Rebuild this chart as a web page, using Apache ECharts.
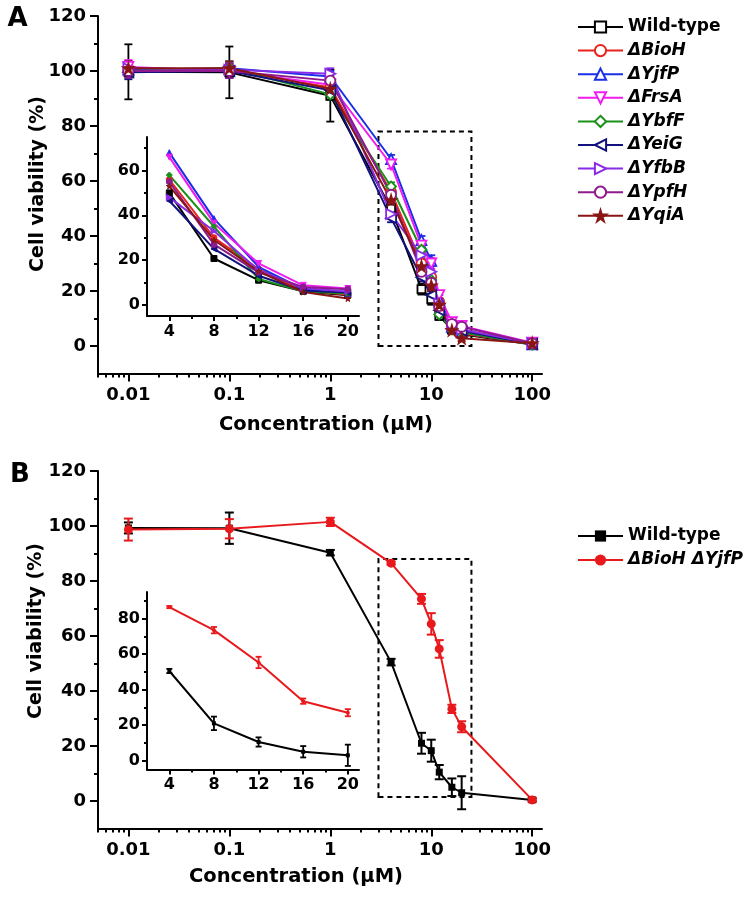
<!DOCTYPE html>
<html><head><meta charset="utf-8">
<script src="https://cdn.jsdelivr.net/npm/echarts@6.0.0/dist/echarts.min.js"></script>
<style>html,body{margin:0;padding:0;background:#fff}#c{width:752px;height:900px}</style>
</head><body><div id="c"></div>
<script>
// ---------- DATA ----------
const concentrations = [0.01, 0.1, 1, 4, 8, 10, 12, 16, 20, 100];
const insetConcentrations = [4, 8, 12, 16, 20];

// Panel A (cell viability %, per concentration)
const namesA = ['Wild-type', 'ΔBioH', 'ΔYjfP', 'ΔFrsA', 'ΔYbfF', 'ΔYeiG', 'ΔYfbB', 'ΔYpfH', 'ΔYqiA'];
const wildTypeA = [99.7, 99.5, 91.0, 50.0, 20.7, 17.0, 11.0, 6.0, 4.3, 0.5];
const bioHA     = [101.0, 100.5, 94.0, 56.0, 30.0, 25.0, 16.0, 6.5, 4.5, 0.8];
const yjfPA     = [100.5, 101.0, 98.0, 68.0, 38.5, 31.0, 17.0, 7.0, 5.0, 0.6];
const frsAA     = [101.5, 100.0, 95.0, 66.0, 36.5, 30.0, 18.5, 8.7, 7.3, 1.2];
const ybfFA     = [100.0, 101.0, 91.5, 58.0, 35.0, 24.0, 11.5, 6.0, 5.0, 0.5];
const yeiGA     = [99.5, 100.0, 93.0, 46.5, 25.0, 18.5, 13.0, 6.3, 5.5, 0.7];
const yfbBA     = [101.0, 100.5, 99.0, 48.0, 33.0, 27.0, 15.5, 7.5, 6.0, 1.0];
const ypfHA     = [100.0, 100.0, 96.5, 55.0, 27.0, 23.0, 14.5, 8.0, 7.0, 1.0];
const yqiAA     = [101.0, 101.0, 93.5, 53.0, 29.0, 22.0, 15.0, 5.7, 2.8, 1.0];
const wildTypeAErr = [10.0, 9.4, 9.4, 2.0, 2.0, 2.0, 1.5, 1.5, 1.5, 1.0];
const mutantAErr   = [2.5, 2.5, 2.0, 1.5, 1.5, 2.0, 1.5, 1.0, 1.0, 1.0];

// Panel B
const namesB = ['Wild-type ', 'ΔBioH ΔYjfP'];
const wildTypeB    = [99.3, 99.2, 90.3, 50.5, 21.0, 18.3, 10.5, 5.0, 3.0, 0.4];
const wildTypeBErr = [2.0, 5.7, 1.0, 1.2, 3.8, 4.0, 2.6, 3.2, 6.0, 0.5];
const doubleB      = [98.7, 99.0, 101.5, 86.5, 73.5, 64.4, 55.3, 33.5, 27.0, 0.4];
const doubleBErr   = [4.0, 3.5, 1.5, 0.6, 1.8, 3.9, 3.2, 1.5, 2.0, 0.8];

// Tick labels
const xTickValues = [0.01, 0.1, 1, 10, 100];
const xTickLabels = ['0.01', '0.1', '1', '10', '100'];
const yTickValues = [0, 20, 40, 60, 80, 100, 120];
const yMinorValues = [10, 30, 50, 70, 90, 110];
const insetXTicks = [4, 8, 12, 16, 20];
const insetXMinor = [6, 10, 14, 18];
const insetAYTicks = [0, 20, 40, 60];
const insetAYMinor = [10, 30, 50, 70];
const insetBYTicks = [0, 20, 40, 60, 80];
const insetBYMinor = [10, 30, 50, 70, 90];

// Dashed zoom boxes (data space)
const boxA = { x: [3, 25], y: [0, 78] };
const boxB = { x: [3, 25], y: [1.5, 88] };

// ---------- STYLE ----------
const FONT = 'DejaVu Sans';
const seriesA = [
  { vals: wildTypeA, err: wildTypeAErr, color: '#000000', symbol: 'rect', rot: 0, open: true },
  { vals: bioHA, err: mutantAErr, color: '#e8231f', symbol: 'circle', rot: 0, open: true },
  { vals: yjfPA, err: mutantAErr, color: '#1b2fe6', symbol: 'triangle', rot: 0, open: true },
  { vals: frsAA, err: mutantAErr, color: '#f01cf0', symbol: 'triangle', rot: 180, open: true },
  { vals: ybfFA, err: mutantAErr, color: '#1a911a', symbol: 'diamond', rot: 0, open: true },
  { vals: yeiGA, err: mutantAErr, color: '#12127f', symbol: 'triangle', rot: 90, open: true },
  { vals: yfbBA, err: mutantAErr, color: '#8a2be8', symbol: 'triangle', rot: -90, open: true },
  { vals: ypfHA, err: mutantAErr, color: '#8e1a8e', symbol: 'circle', rot: 0, open: true },
  { vals: yqiAA, err: mutantAErr, color: '#8a1515', symbol: 'path://M50,0 L61,35 L98,35 L68,57 L79,91 L50,70 L21,91 L32,57 L2,35 L39,35 Z', rot: 0, open: false }
];

const lg = v => Math.log10(v);
const LOG_MIN = lg(0.005), LOG_MAX = lg(125);
const xMinorValues = [];
for (let d = -3; d <= 2; d++) for (let k = 2; k <= 9; k++) {
  const v = k * Math.pow(10, d);
  if (v >= 0.005 && v <= 125) xMinorValues.push(lg(v));
}

function labelFmt(values, labels) {
  return v => { const i = values.findIndex(t => Math.abs(t - v) < 1e-7); return i < 0 ? '' : labels[i]; };
}
function majorAxis(gridIndex, min, max, values, labels, fontSize, margin, tickLen) {
  return {
    type: 'value', gridIndex, min, max, splitLine: { show: false },
    axisLine: { show: true, onZero: false, lineStyle: { color: '#000', width: 2 } },
    axisTick: { show: true, customValues: values, length: tickLen, lineStyle: { color: '#000', width: 2 } },
    axisLabel: { show: true, customValues: values, formatter: labelFmt(values, labels), margin,
      fontSize, fontWeight: 'bold', fontFamily: FONT, color: '#000', hideOverlap: false }
  };
}
function minorAxis(gridIndex, min, max, values, tickLen, position) {
  return {
    type: 'value', gridIndex, min, max, position, splitLine: { show: false },
    axisLine: { show: false, onZero: false },
    axisTick: { show: true, customValues: values, length: tickLen, lineStyle: { color: '#000', width: 2 } },
    axisLabel: { show: false }
  };
}

// axis index 2*g is the major axis of grid g; 2*g+1 carries its minor ticks
const AX_MAIN_A = 0, AX_INSET_A = 2, AX_MAIN_B = 4, AX_INSET_B = 6;
const xAxes = [
  Object.assign(majorAxis(0, LOG_MIN, LOG_MAX, xTickValues.map(lg), xTickLabels, 18, 13, 8), { position: 'bottom' }),
  minorAxis(0, LOG_MIN, LOG_MAX, xMinorValues, 4, 'bottom'),
  Object.assign(majorAxis(1, 2, 21, insetXTicks, insetXTicks.map(String), 16, 8, 5), { position: 'bottom' }),
  minorAxis(1, 2, 21, insetXMinor, 3, 'bottom'),
  Object.assign(majorAxis(2, LOG_MIN, LOG_MAX, xTickValues.map(lg), xTickLabels, 18, 13, 8), { position: 'bottom' }),
  minorAxis(2, LOG_MIN, LOG_MAX, xMinorValues, 4, 'bottom'),
  Object.assign(majorAxis(3, 2, 21, insetXTicks, insetXTicks.map(String), 16, 7, 5), { position: 'bottom' }),
  minorAxis(3, 2, 21, insetXMinor, 3, 'bottom')
];
const yAxes = [
  Object.assign(majorAxis(0, -10, 120, yTickValues, yTickValues.map(String), 18, 12, 8), { position: 'left' }),
  minorAxis(0, -10, 120, yMinorValues, 4, 'left'),
  Object.assign(majorAxis(1, -5, 75, insetAYTicks, insetAYTicks.map(String), 16, 7, 5), { position: 'left' }),
  minorAxis(1, -5, 75, insetAYMinor, 3, 'left'),
  Object.assign(majorAxis(2, -10, 120, yTickValues, yTickValues.map(String), 18, 12, 8), { position: 'left' }),
  minorAxis(2, -10, 120, yMinorValues, 4, 'left'),
  Object.assign(majorAxis(3, -5, 95, insetBYTicks, insetBYTicks.map(String), 16, 7, 5), { position: 'left' }),
  minorAxis(3, -5, 95, insetBYMinor, 3, 'left')
];

function errSeries(axisIndex, data, color, cap, width) {
  return {
    type: 'custom', xAxisIndex: axisIndex, yAxisIndex: axisIndex, data, z: 1, silent: true,
    encode: { x: 0, y: 1 },
    renderItem(params, api) {
      const x = api.value(0), y = api.value(1), e = api.value(2);
      const t = api.coord([x, y + e]), b = api.coord([x, y - e]);
      const st = { stroke: color, lineWidth: width };
      return { type: 'group', children: [
        { type: 'line', shape: { x1: t[0], y1: t[1], x2: b[0], y2: b[1] }, style: st },
        { type: 'line', shape: { x1: t[0] - cap, y1: t[1], x2: t[0] + cap, y2: t[1] }, style: st },
        { type: 'line', shape: { x1: b[0] - cap, y1: b[1], x2: b[0] + cap, y2: b[1] }, style: st }
      ]};
    }
  };
}
function boxMark(box) {
  return {
    silent: true, label: { show: false },
    itemStyle: { color: 'rgba(0,0,0,0)', borderColor: '#000', borderWidth: 2, borderType: [5, 4] },
    data: [[{ coord: [lg(box.x[0]), box.y[0]] }, { coord: [lg(box.x[1]), box.y[1]] }]]
  };
}

const series = [];
// Panel A main
seriesA.forEach((s, i) => {
  series.push({
    type: 'line', name: namesA[i], xAxisIndex: AX_MAIN_A, yAxisIndex: AX_MAIN_A, z: 3,
    data: concentrations.map((c, j) => [lg(c), s.vals[j]]),
    symbol: s.symbol, symbolRotate: s.rot, symbolSize: s.symbol === 'rect' ? 8 : 10,
    color: s.color,
    lineStyle: { color: s.color, width: 2 },
    itemStyle: { color: s.open ? '#fff' : s.color, borderColor: s.color, borderWidth: 1.8 },
    markArea: i === 0 ? boxMark(boxA) : undefined
  });
});
// Panel B main
const seriesB = [
  { vals: wildTypeB, err: wildTypeBErr, color: '#000000', symbol: 'rect', size: 7 },
  { vals: doubleB, err: doubleBErr, color: '#e8191c', symbol: 'circle', size: 9 }
];
seriesB.forEach((s, i) => {
  series.push({
    type: 'line', name: namesB[i], xAxisIndex: AX_MAIN_B, yAxisIndex: AX_MAIN_B, z: 3,
    data: concentrations.map((c, j) => [lg(c), s.vals[j]]),
    symbol: s.symbol, symbolSize: s.size, color: s.color,
    lineStyle: { color: s.color, width: 2 },
    itemStyle: { color: s.color, borderColor: s.color, borderWidth: 0 },
    markArea: i === 0 ? boxMark(boxB) : undefined
  });
});
// Error bars main
seriesA.forEach((s) => {
  series.push(errSeries(AX_MAIN_A, concentrations.map((c, j) => [lg(c), s.vals[j], s.err[j]]), s.color, 4, 1.8));
});
seriesB.forEach((s) => {
  series.push(errSeries(AX_MAIN_B, concentrations.map((c, j) => [lg(c), s.vals[j], s.err[j]]), s.color, 4.5, 2));
});
// Insets (subset of the same measurements)
const insetIdx = concentrations.map((c, j) => j).filter(j => insetConcentrations.includes(concentrations[j]));
seriesA.forEach((s, i) => {
  series.push({
    type: 'line', name: namesA[i], xAxisIndex: AX_INSET_A, yAxisIndex: AX_INSET_A, z: 3,
    data: insetIdx.map(j => [concentrations[j], s.vals[j]]),
    symbol: s.symbol, symbolRotate: s.rot, symbolSize: 6, color: s.color,
    lineStyle: { color: s.color, width: 2 },
    itemStyle: { color: s.color, borderColor: s.color, borderWidth: 1 }
  });
});
seriesB.forEach((s, i) => {
  series.push({
    type: 'line', name: namesB[i], xAxisIndex: AX_INSET_B, yAxisIndex: AX_INSET_B, z: 3,
    data: insetIdx.map(j => [concentrations[j], s.vals[j]]),
    symbol: s.symbol, symbolSize: 4, color: s.color,
    lineStyle: { color: s.color, width: 2 },
    itemStyle: { color: s.color }
  });
  series.push(errSeries(AX_INSET_B, insetIdx.map(j => [concentrations[j], s.vals[j], s.err[j]]), s.color, 3, 1.8));
});

const legendText = { fontFamily: FONT, fontWeight: 'bold', fontSize: 17, color: '#000', lineHeight: 18 };
const legendItem = n => ({ name: n, textStyle: n.trim() === 'Wild-type' ? {} : { fontStyle: 'italic' } });

function txt(text, x, y, size, rot) {
  return { type: 'text', x, y, rotation: rot || 0, silent: true,
    style: { text, fontSize: size, fontWeight: 'bold', fontFamily: FONT, fill: '#000', align: 'center', verticalAlign: 'middle' } };
}

const option = {
  animation: false,
  backgroundColor: '#fff',
  grid: [
    { left: 98, top: 16, width: 444, height: 357.5, outerBoundsMode: 'none' },
    { left: 147, top: 137, width: 212, height: 179, outerBoundsMode: 'none' },
    { left: 98, top: 471, width: 444, height: 357.5, outerBoundsMode: 'none' },
    { left: 147, top: 592, width: 212, height: 177.5, outerBoundsMode: 'none' }
  ],
  xAxis: xAxes,
  yAxis: yAxes,
  legend: [
    { orient: 'vertical', left: 577, top: 18, padding: 0, itemWidth: 45, itemHeight: 14, itemGap: 5.6,
      selectedMode: false, textStyle: legendText, data: namesA.map(legendItem) },
    { orient: 'vertical', left: 577, top: 527, padding: 0, itemWidth: 45, itemHeight: 14, itemGap: 6,
      selectedMode: false, textStyle: legendText, data: namesB.map(legendItem) }
  ],
  graphic: [
    txt('A', 17.5, 19, 26),
    txt('B', 20, 475, 26),
    txt('Cell viability (%)', 38, 184, 19, Math.PI / 2),
    txt('Cell viability (%)', 36, 631, 19, Math.PI / 2),
    txt('Concentration (μM)', 326, 425, 19.5),
    txt('Concentration (μM)', 296, 877, 19.5)
  ],
  series
};
echarts.init(document.getElementById('c')).setOption(option);
</script></body></html>
